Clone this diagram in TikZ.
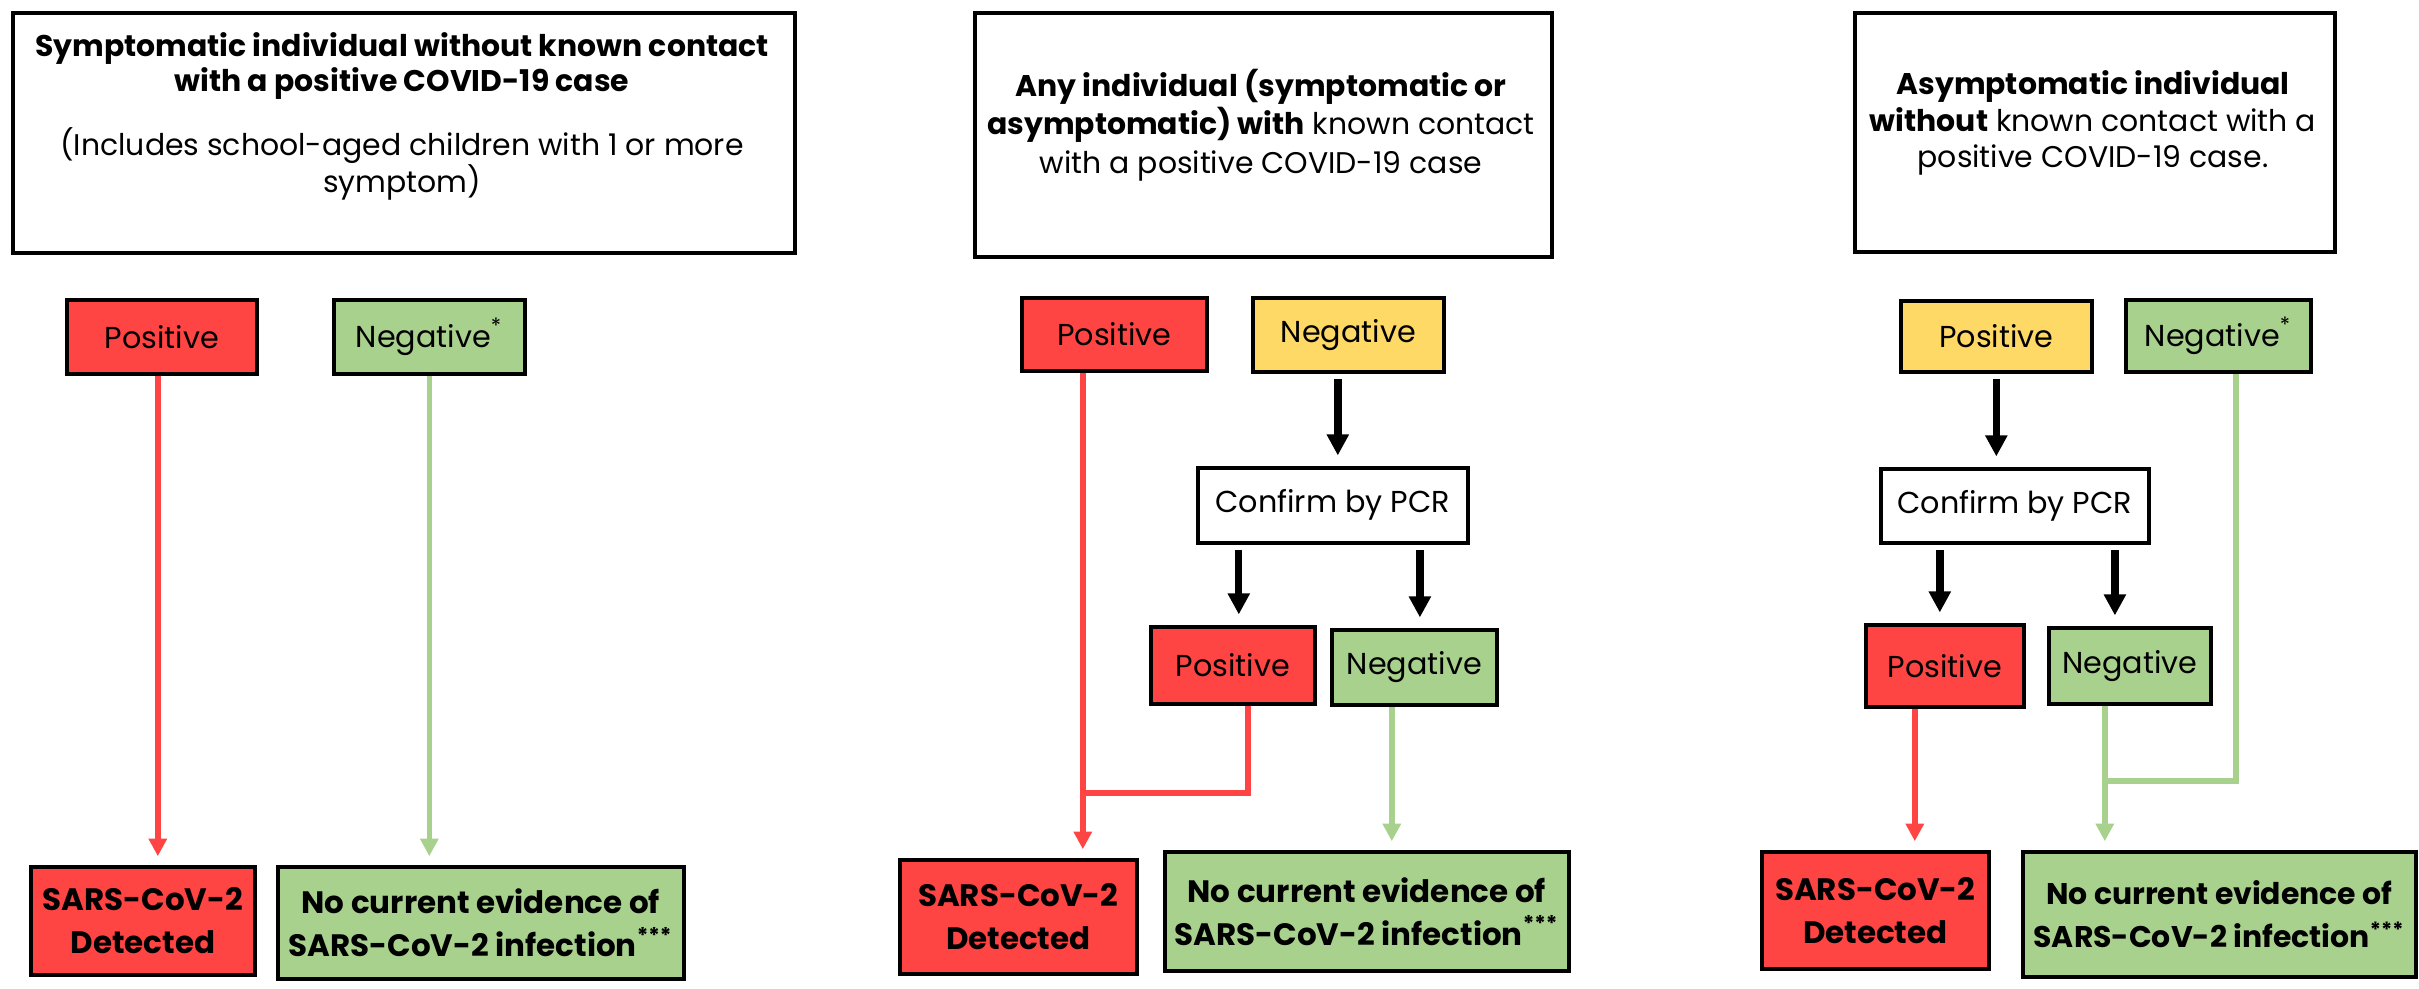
\documentclass[tikz,border=0pt]{standalone}
\usepackage{fontspec}
\setmainfont{Poppins}
\usetikzlibrary{arrows.meta}
\definecolor{cred}{HTML}{FF4444}
\definecolor{cgreen}{HTML}{A9D18E}
\definecolor{cyellow}{HTML}{FFD966}
\begin{document}
\begin{tikzpicture}[x=0.01cm,y=-0.01cm,
  box/.style={draw=black, line width=1pt, inner sep=0pt, align=center, anchor=north west, font=\fontsize{8.6}{10}\selectfont},
  bigbox/.style={box, font=\fontsize{8.8}{12.2}\selectfont\bfseries},
  ttl/.style={align=center, inner sep=0pt, font=\fontsize{8.5}{10}\selectfont},
  redln/.style={draw=cred, line width=1.6pt},
  grnln/.style={draw=cgreen, line width=1.6pt},
  redarr/.style={redln, -{Triangle[length=5pt,width=5pt]}, shorten >=2.5pt},
  grnarr/.style={grnln, -{Triangle[length=5pt,width=5pt]}, shorten >=2.5pt},
  blkarr/.style={draw=black, line width=2.1pt, -{Triangle[length=6pt,width=6pt]}, shorten >=3pt, shorten <=1.5pt}
]
\useasboundingbox (0,0) rectangle (2419,989);
\fill[white] (0,0) rectangle (2419,989);

% ---------- Panel 1 ----------
\node[box, minimum width=7.82cm, minimum height=2.40cm] (top1) at (11,11) {};
\node[ttl] (top1a) at (402,66) {\textbf{Symptomatic individual without known contact}\\\textbf{with a positive COVID-19 case}};
\node[ttl, font=\fontsize{8.5}{10.5}\selectfont] (top1b) at (402,164) {(Includes school-aged children with 1 or more\\symptom)};

\node[box, fill=cred, minimum width=1.90cm, minimum height=0.74cm] (pos1) at (65,298) {Positive};
\node[box, fill=cgreen, minimum width=1.91cm, minimum height=0.74cm] (neg1) at (332,298) {Negative\textsuperscript{*}};
\node[bigbox, fill=cred, minimum width=2.24cm, minimum height=1.08cm] (det1) at (29,865) {SARS-CoV-2\\Detected};
\node[bigbox, fill=cgreen, minimum width=4.06cm, minimum height=1.12cm] (nce1) at (276,865) {No current evidence of\\SARS-CoV-2 infection\textsuperscript{***}};

\draw[redarr] ([xshift=-0.04cm]pos1.south) -- ([xshift=-0.04cm]pos1.south |- det1.north);
\draw[grnarr] (neg1.south) -- (neg1.south |- nce1.north);

% ---------- Panel 2 ----------
\node[box, minimum width=5.77cm, minimum height=2.44cm] (top2) at (973,11) {};
\node[ttl, font=\fontsize{8.5}{11}\selectfont] (top2a) at (1261,125) {\textbf{Any individual (symptomatic or}\\\textbf{asymptomatic) with} known contact\\with a positive COVID-19 case};

\node[box, fill=cred, minimum width=1.85cm, minimum height=0.73cm] (pos2) at (1020,296) {Positive};
\node[box, fill=cyellow, minimum width=1.91cm, minimum height=0.74cm] (neg2) at (1251,296) {Negative};
\node[box, fill=white, minimum width=2.70cm, minimum height=0.75cm] (conf2) at (1196,466) {Confirm by PCR};
\node[box, fill=cred, minimum width=1.64cm, minimum height=0.77cm] (pp2) at (1149,625) {Positive};
\node[box, fill=cgreen, minimum width=1.65cm, minimum height=0.75cm] (pn2) at (1330,628) {Negative};
\node[bigbox, fill=cred, minimum width=2.37cm, minimum height=1.14cm] (det2) at (898,858) {SARS-CoV-2\\Detected};
\node[bigbox, fill=cgreen, minimum width=4.04cm, minimum height=1.19cm] (nce2) at (1163,850) {No current evidence of\\SARS-CoV-2 infection\textsuperscript{***}};
\coordinate (j2) at (1081,793);

\draw[blkarr] ([xshift=-0.105cm]neg2.south) -- ([xshift=-0.105cm]neg2.south |- conf2.north);
\draw[blkarr] ([xshift=-0.94cm]conf2.south) -- ([xshift=-0.94cm]conf2.south |- pp2.north);
\draw[blkarr] ([xshift=0.87cm]conf2.south) -- ([xshift=0.87cm]conf2.south |- pn2.north);
\draw[redarr] ([xshift=-0.315cm]pos2.south) -- ([xshift=-0.315cm]pos2.south |- det2.north);
\draw[redln] ([xshift=0.15cm]pp2.south) |- (j2);
\draw[grnarr] ([xshift=-0.225cm]pn2.south) -- ([xshift=-0.225cm]pn2.south |- nce2.north);

% ---------- Panel 3 ----------
\node[box, minimum width=4.80cm, minimum height=2.39cm] (top3) at (1853,11) {};
\node[ttl, font=\fontsize{8.5}{10.5}\selectfont] (top3a) at (2093,123) {\textbf{Asymptomatic individual}\\\textbf{without} known contact with a\\positive COVID-19 case.};

\node[box, fill=cyellow, minimum width=1.91cm, minimum height=0.71cm] (pos3) at (1899,299) {Positive};
\node[box, fill=cgreen, minimum width=1.85cm, minimum height=0.72cm] (neg3) at (2124,298) {Negative\textsuperscript{*}};
\node[box, fill=white, minimum width=2.68cm, minimum height=0.74cm] (conf3) at (1879,467) {Confirm by PCR};
\node[box, fill=cred, minimum width=1.58cm, minimum height=0.82cm] (pp3) at (1864,623) {Positive};
\node[box, fill=cgreen, minimum width=1.62cm, minimum height=0.76cm] (pn3) at (2047,626) {Negative};
\node[bigbox, fill=cred, minimum width=2.27cm, minimum height=1.17cm] (det3) at (1760,850) {SARS-CoV-2\\Detected};
\node[bigbox, fill=cgreen, minimum width=3.93cm, minimum height=1.25cm, font=\fontsize{8.5}{12.2}\selectfont\bfseries] (nce3) at (2021,850) {No current evidence of\\SARS-CoV-2 infection\textsuperscript{***}};
\coordinate (j3) at (2103,781);

\draw[blkarr] (pos3.south) -- (pos3.south |- conf3.north);
\draw[blkarr] ([xshift=-0.75cm]conf3.south) -- ([xshift=-0.75cm]conf3.south |- pp3.north);
\draw[blkarr] ([xshift=1.00cm]conf3.south) -- ([xshift=1.00cm]conf3.south |- pn3.north);
\draw[redarr] ([xshift=-0.30cm]pp3.south) -- ([xshift=-0.30cm]pp3.south |- det3.north);
\draw[grnarr] ([xshift=-0.25cm]pn3.south) -- ([xshift=-0.25cm]pn3.south |- nce3.north);
\draw[grnln] ([xshift=0.175cm]neg3.south) |- (j3);
\end{tikzpicture}
\end{document}
